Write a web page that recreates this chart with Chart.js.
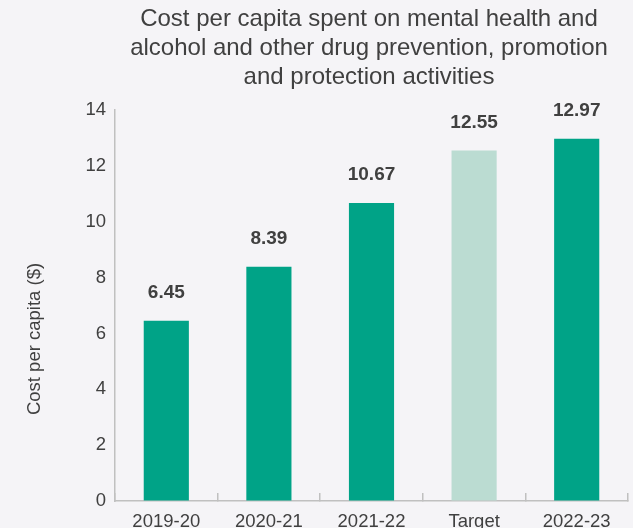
<!DOCTYPE html>
<html>
<head>
<meta charset="utf-8">
<title>Cost per capita</title>
<script src="https://cdn.jsdelivr.net/npm/chart.js@4.4.1/dist/chart.umd.min.js"></script>
<style>
  html, body { margin: 0; padding: 0; background: #f5f4f7; }
  #wrap { width: 633px; height: 528px; }
</style>
</head>
<body>
<div id="wrap"><canvas id="myChart"></canvas></div>
<script>
// values
const years = ['2019-20', '2020-21', '2021-22', 'Target', '2022-23'];
const costPerCapita = [6.45, 8.39, 10.67, 12.55, 12.97];
const yMax = 14;
const yStep = 2;

const titleLines = [
    'Cost per capita spent on mental health and',
    'alcohol and other drug prevention, promotion',
    'and protection activities'
];
const yTitle = 'Cost per capita ($)';

const teal = '#00a387';
const paleTeal = '#bbdcd2';
const textGrey = '#404040';
const axisGrey = '#c0c0c0';
const fontFamily = '"Liberation Sans", Arial, sans-serif';

// the target bar is lighter than the actual years
const barColours = years.map(y => y === 'Target' ? paleTeal : teal);

// numbers above each bar
const valueLabels = {
    id: 'valueLabels',
    afterDatasetsDraw(chart) {
        const ctx = chart.ctx;
        const meta = chart.getDatasetMeta(0);
        ctx.save();
        ctx.font = 'bold 19px ' + fontFamily;
        ctx.fillStyle = textGrey;
        ctx.textAlign = 'center';
        ctx.textBaseline = 'middle';
        meta.data.forEach((bar, i) => {
            const v = chart.data.datasets[0].data[i];
            ctx.fillText(v.toFixed(2), bar.x, bar.y - 28);
        });
        ctx.restore();
    }
};

// heading and the y axis caption sit a little off the usual spots
const headings = {
    id: 'headings',
    afterDraw(chart) {
        const ctx = chart.ctx;
        ctx.save();
        ctx.fillStyle = textGrey;
        ctx.textAlign = 'center';
        ctx.textBaseline = 'alphabetic';
        ctx.font = '24px ' + fontFamily;
        titleLines.forEach((line, i) => {
            ctx.fillText(line, 369, 26 + i * 28.8);
        });

        ctx.font = '18.5px ' + fontFamily;
        ctx.textBaseline = 'middle';
        ctx.translate(35, 339);
        ctx.rotate(-Math.PI / 2);
        ctx.fillText(yTitle, 0, 0);
        ctx.restore();
    }
};

const ctx = document.getElementById('myChart');

const myChart = new Chart(ctx, {
    type: 'bar',
    data: {
        labels: years,
        datasets: [{
            data: costPerCapita,
            backgroundColor: barColours,
            borderWidth: 0,
            barPercentage: 0.44,
            categoryPercentage: 1
        }]
    },
    options: {
        responsive: true,
        maintainAspectRatio: false,
        animation: false,
        layout: {
            padding: { top: 110, right: 5, bottom: 0, left: 0 }
        },
        scales: {
            x: {
                grid: {
                    display: true,
                    offset: true,
                    drawOnChartArea: false,
                    drawTicks: true,
                    tickLength: -8,
                    color: axisGrey,
                    lineWidth: 1.5
                },
                border: { display: true, color: axisGrey, width: 1.5 },
                ticks: {
                    color: textGrey,
                    font: { family: fontFamily, size: 18.5 },
                    padding: 18,
                    maxRotation: 0
                },
                afterFit(scale) { scale.height = 27; }
            },
            y: {
                min: 0,
                max: yMax,
                grid: {
                    display: true,
                    drawOnChartArea: false,
                    drawTicks: false
                },
                border: { display: true, color: axisGrey, width: 1.5 },
                ticks: {
                    stepSize: yStep,
                    color: textGrey,
                    font: { family: fontFamily, size: 18.5 },
                    padding: 9
                },
                afterFit(scale) { scale.width = 115; }
            }
        },
        plugins: {
            legend: { display: false },
            title: { display: false },
            tooltip: { enabled: false }
        }
    },
    plugins: [valueLabels, headings]
});
</script>
</body>
</html>
